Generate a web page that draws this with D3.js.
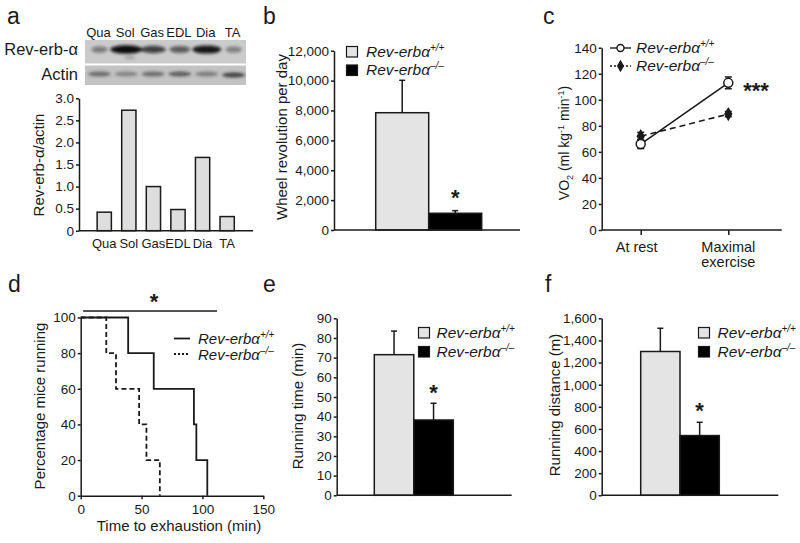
<!DOCTYPE html>
<html><head><meta charset="utf-8">
<script src="https://cdn.jsdelivr.net/npm/d3@7"></script>
<style>
body{margin:0;background:#fff}
svg{display:block;font-family:"Liberation Sans",Arial,Helvetica,sans-serif}
</style>
</head><body>
<svg id="fig" width="800" height="543"></svg>
<script>
// ---------------- data ----------------
const muscles = ["Qua", "Sol", "Gas", "EDL", "Dia", "TA"];
const revErbRatio = [0.42, 2.73, 1.0, 0.48, 1.66, 0.32];
const ratioTicks = [0, 0.5, 1.0, 1.5, 2.0, 2.5, 3.0];
const blotRevErb = [0.45, 1.0, 0.75, 0.6, 0.95, 0.42];
const blotRevErbWidth = [0.5, 1.0, 0.8, 0.65, 0.9, 0.5];
const blotActin = [0.55, 0.4, 0.55, 0.65, 0.45, 0.8];

const genotypes = ["+/+", "–/–"];
const wheelMean = [7850, 1120];
const wheelSem = [2170, 175];
const wheelTicks = [0, 2000, 4000, 6000, 8000, 10000, 12000];

const vo2Conditions = ["At rest", "Maximal exercise"];
const vo2WT = [66, 113];
const vo2WTSem = [3.5, 4.5];
const vo2KO = [72, 89];
const vo2KOSem = [3, 2];
const vo2Ticks = [0, 20, 40, 60, 80, 100, 120, 140];

const survTimeWT = [0, 39, 60, 93, 95, 104];
const survPctWT = [100, 80, 60, 40, 20, 0];
const survTimeKO = [0, 21, 29, 48, 54, 65];
const survPctKO = [100, 80, 60, 40, 20, 0];
const survXTicks = [0, 50, 100, 150];
const survYTicks = [0, 20, 40, 60, 80, 100];
const survSigSpan = [2, 112];

const runTimeMean = [71.5, 38.3];
const runTimeSem = [12, 8.5];
const runTimeTicks = [0, 10, 20, 30, 40, 50, 60, 70, 80, 90];

const runDistMean = [1300, 540];
const runDistSem = [210, 120];
const runDistTicks = [0, 200, 400, 600, 800, 1000, 1200, 1400, 1600];

// ---------------- helpers ----------------
const svg = d3.select("#fig");
svg.append("rect").attr("width", 800).attr("height", 543).attr("fill", "#fff");
const INK = "#1a1a1a";
const LW = 1.5;
const TICKFS = 13.5;

function panelLabel(t, x, y) {
  svg.append("text").attr("x", x).attr("y", y).attr("font-size", 23).attr("fill", INK).text(t);
}
function yAxis(scale, x, ticks, fmt) {
  const g = svg.append("g").attr("transform", `translate(${x},0)`)
    .call(d3.axisLeft(scale).tickValues(ticks).tickFormat(fmt).tickSize(3).tickSizeOuter(0).tickPadding(2));
  g.select(".domain").attr("stroke", INK).attr("stroke-width", LW);
  g.selectAll(".tick line").attr("stroke", INK).attr("stroke-width", LW);
  g.selectAll(".tick text").attr("font-size", TICKFS).attr("fill", INK)
    .attr("font-family", "Liberation Sans, Arial, sans-serif");
  return g;
}
function yTitle(t, x, y, fs) {
  return svg.append("text").attr("transform", `translate(${x},${y}) rotate(-90)`)
    .attr("text-anchor", "middle").attr("font-size", fs || 15).attr("fill", INK).text(t);
}
function hline(x1, x2, y) {
  svg.append("line").attr("x1", x1).attr("x2", x2).attr("y1", y).attr("y2", y)
    .attr("stroke", INK).attr("stroke-width", LW);
}
function genoText(x, y, sup, fs) {
  const t = svg.append("text").attr("x", x).attr("y", y).attr("font-size", fs || 15.5)
    .attr("font-style", "italic").attr("fill", INK);
  t.append("tspan").text("Rev-erbα");
  t.append("tspan").attr("font-size", 10).attr("dy", -6).text(sup);
  return t;
}
function star(txt, x, y) {
  svg.append("text").attr("x", x).attr("y", y).attr("text-anchor", "middle")
    .attr("font-size", 22).attr("font-weight", "bold").attr("fill", INK).text(txt);
}
const barFills = ["#e4e4e4", "#000"];

function barPanel(opts) {
  const y = d3.scaleLinear().domain(opts.domain).range(opts.yRange);
  const x = d3.scaleBand().domain(genotypes).range(opts.xRange).padding(0);
  genotypes.forEach((gname, i) => {
    const cx = x(gname) + x.bandwidth() / 2;
    svg.append("line").attr("x1", cx).attr("x2", cx)
      .attr("y1", y(opts.mean[i])).attr("y2", y(opts.mean[i] + opts.sem[i]))
      .attr("stroke", INK).attr("stroke-width", LW);
    svg.append("line").attr("x1", cx - 3).attr("x2", cx + 3)
      .attr("y1", y(opts.mean[i] + opts.sem[i])).attr("y2", y(opts.mean[i] + opts.sem[i]))
      .attr("stroke", INK).attr("stroke-width", LW);
  });
  svg.append("g").selectAll("rect").data(genotypes).join("rect")
    .attr("x", d => x(d)).attr("width", x.bandwidth())
    .attr("y", (d, i) => y(opts.mean[i])).attr("height", (d, i) => y(0) - y(opts.mean[i]))
    .attr("fill", (d, i) => barFills[i]).attr("stroke", INK).attr("stroke-width", LW);
  yAxis(y, opts.axisX, opts.ticks, opts.fmt);
  hline(opts.axisX, opts.xEnd, y(0));
  genotypes.forEach((gname, i) => {
    svg.append("rect").attr("x", opts.leg[0]).attr("y", opts.leg[1] + i * opts.leg[3])
      .attr("width", 11).attr("height", 10.5).attr("fill", barFills[i])
      .attr("stroke", INK).attr("stroke-width", 1.2);
    genoText(opts.leg[2], opts.leg[1] + i * opts.leg[3] + 10, gname);
  });
  star("*", x(genotypes[1]) + x.bandwidth() / 2, opts.starY);
  return { x, y };
}

// ---------------- panel a ----------------
panelLabel("a", 7, 24);
{
  const xb = d3.scaleBand().domain(muscles).range([85, 246]).padding(0);
  const defs = svg.append("defs");
  defs.append("filter").attr("id", "blur").attr("x", "-50%").attr("y", "-100%")
    .attr("width", "200%").attr("height", "300%")
    .append("feGaussianBlur").attr("stdDeviation", 1.6);
  svg.append("rect").attr("x", 85).attr("y", 40).attr("width", 161).attr("height", 23.5).attr("fill", "#cbcbcb");
  svg.append("rect").attr("x", 85).attr("y", 65.5).attr("width", 161).attr("height", 19.5).attr("fill", "#c3c3c3");
  const bands = svg.append("g").attr("filter", "url(#blur)");
  muscles.forEach((m, i) => {
    const cx = xb(m) + xb.bandwidth() / 2;
    bands.append("ellipse").attr("cx", cx + 1).attr("cy", 49.5)
      .attr("rx", 16 * blotRevErbWidth[i]).attr("ry", 2.2 + 2 * blotRevErb[i])
      .attr("fill", "#111").attr("opacity", blotRevErb[i]);
    bands.append("ellipse").attr("cx", cx + 1).attr("cy", 74 + (i === 5 ? 1 : 0))
      .attr("rx", 11.5).attr("ry", 2.4)
      .attr("fill", "#222").attr("opacity", blotActin[i]);
  });
  bands.append("ellipse").attr("cx", 130).attr("cy", 57.5).attr("rx", 5).attr("ry", 1.5)
    .attr("fill", "#444").attr("opacity", 0.35);
  svg.append("g").selectAll("text").data(muscles).join("text")
    .attr("x", d => xb(d) + xb.bandwidth() / 2).attr("y", 37).attr("text-anchor", "middle")
    .attr("font-size", 13).attr("fill", INK).text(d => d);
  svg.append("text").attr("x", 78).attr("y", 55).attr("text-anchor", "end")
    .attr("font-size", 16.5).attr("fill", INK).text("Rev-erb-α");
  svg.append("text").attr("x", 78).attr("y", 80).attr("text-anchor", "end")
    .attr("font-size", 16.5).attr("fill", INK).text("Actin");

  const y = d3.scaleLinear().domain([0, 3]).range([230.7, 98.3]);
  const x = d3.scaleBand().domain(muscles).range([86.8, 244.6]).padding(0.42);
  svg.append("g").selectAll("rect").data(muscles).join("rect")
    .attr("x", d => x(d)).attr("width", x.bandwidth())
    .attr("y", (d, i) => y(revErbRatio[i])).attr("height", (d, i) => y(0) - y(revErbRatio[i]))
    .attr("fill", "#dedede").attr("stroke", INK).attr("stroke-width", LW);
  yAxis(y, 79, ratioTicks, d => d === 0 ? "0" : d3.format(".1f")(d));
  hline(79, 253, y(0));
  svg.append("g").selectAll("text").data(muscles).join("text")
    .attr("x", d => x(d) + x.bandwidth() / 2).attr("y", 248).attr("text-anchor", "middle")
    .attr("font-size", 13).attr("fill", INK).text(d => d);
  yTitle("Rev-erb-α/actin", 44, 165);
}

// ---------------- panel b ----------------
panelLabel("b", 263, 24);
barPanel({
  domain: [0, 12000], yRange: [230, 50.7], xRange: [375.7, 481.7],
  mean: wheelMean, sem: wheelSem, axisX: 334, xEnd: 520,
  ticks: wheelTicks, fmt: d3.format(","), leg: [346.5, 46.5, 366, 18.5], starY: 205
});
yTitle("Wheel revolution per day", 287, 137);

// ---------------- panel c ----------------
panelLabel("c", 543, 24);
{
  const y = d3.scaleLinear().domain([0, 140]).range([230, 47.7]);
  const x = d3.scalePoint().domain(vo2Conditions).range([640.7, 728.3]);
  const g = svg.append("g").attr("transform", "translate(0,230)")
    .call(d3.axisBottom(x).tickSize(5).tickSizeOuter(0).tickFormat(""));
  g.select(".domain").remove();
  g.selectAll(".tick line").attr("stroke", INK).attr("stroke-width", LW);
  hline(601.7, 781.7, 230);
  yAxis(y, 601.7, vo2Ticks, d3.format("d"));

  const lineGen = d3.line().x((d, i) => x(vo2Conditions[i])).y(d => y(d));
  svg.append("path").attr("d", lineGen(vo2KO)).attr("fill", "none").attr("stroke", INK)
    .attr("stroke-width", 1.6).attr("stroke-dasharray", "6,4");
  svg.append("path").attr("d", lineGen(vo2WT)).attr("fill", "none").attr("stroke", INK)
    .attr("stroke-width", 1.6);
  function errBars(vals, sems) {
    vals.forEach((v, i) => {
      const cx = x(vo2Conditions[i]);
      svg.append("line").attr("x1", cx).attr("x2", cx).attr("y1", y(v - sems[i])).attr("y2", y(v + sems[i]))
        .attr("stroke", INK).attr("stroke-width", LW);
      [v - sems[i], v + sems[i]].forEach(e => {
        svg.append("line").attr("x1", cx - 3.5).attr("x2", cx + 3.5).attr("y1", y(e)).attr("y2", y(e))
          .attr("stroke", INK).attr("stroke-width", LW);
      });
    });
  }
  errBars(vo2KO, vo2KOSem);
  errBars(vo2WT, vo2WTSem);
  const diamond = d3.symbol(d3.symbolDiamond, 60);
  vo2KO.forEach((v, i) => {
    svg.append("path").attr("d", diamond()).attr("transform", `translate(${x(vo2Conditions[i])},${y(v)})`)
      .attr("fill", INK);
  });
  vo2WT.forEach((v, i) => {
    svg.append("circle").attr("cx", x(vo2Conditions[i])).attr("cy", y(v)).attr("r", 4.5)
      .attr("fill", "#fff").attr("stroke", INK).attr("stroke-width", 1.5);
  });
  const labelLines = vo2Conditions.map(c => c === "At rest" ? [c] : c.split(" "));
  vo2Conditions.forEach((c, i) => {
    labelLines[i].forEach((ln, j) => {
      svg.append("text").attr("x", x(c) - (i === 0 ? 4 : 0)).attr("y", 252 + j * 15).attr("text-anchor", "middle")
        .attr("font-size", 14.5).attr("fill", INK).text(ln);
    });
  });
  [["+/+", false, 48], ["–/–", true, 66]].forEach(([sup, ko, ly]) => {
    svg.append("line").attr("x1", 610).attr("x2", 631).attr("y1", ly).attr("y2", ly)
      .attr("stroke", INK).attr("stroke-width", 1.4).attr("stroke-dasharray", ko ? "2,2" : null);
    if (ko) svg.append("path").attr("d", d3.symbol(d3.symbolDiamond, 45)()).attr("transform", `translate(620.5,${ly})`).attr("fill", INK);
    else svg.append("circle").attr("cx", 620.5).attr("cy", ly).attr("r", 3.5).attr("fill", "#fff").attr("stroke", INK).attr("stroke-width", 1.4);
    genoText(636, ly + 5, sup);
  });
  star("***", 756, 98);
  const t = svg.append("text").attr("transform", "translate(569,143) rotate(-90)")
    .attr("text-anchor", "middle").attr("font-size", 14).attr("fill", INK);
  t.append("tspan").text("VO");
  t.append("tspan").attr("font-size", 9).attr("dy", 4).text("2");
  t.append("tspan").attr("dy", -4).text(" (ml kg");
  t.append("tspan").attr("font-size", 9).attr("dy", -5).text("-1");
  t.append("tspan").attr("dy", 5).text(" min");
  t.append("tspan").attr("font-size", 9).attr("dy", -5).text("-1");
  t.append("tspan").attr("dy", 5).text(")");
}

// ---------------- panel d ----------------
panelLabel("d", 8, 292);
{
  const x = d3.scaleLinear().domain([0, 150]).range([80.7, 263.3]);
  const y = d3.scaleLinear().domain([0, 100]).range([495.7, 317.5]);
  const step = d3.line().curve(d3.curveStepAfter).x(d => x(d[0])).y(d => y(d[1]));
  svg.append("path").attr("d", step(survTimeKO.map((t, i) => [t, survPctKO[i]])))
    .attr("fill", "none").attr("stroke", INK).attr("stroke-width", 1.8).attr("stroke-dasharray", "5,3");
  svg.append("path").attr("d", step(survTimeWT.map((t, i) => [t, survPctWT[i]])))
    .attr("fill", "none").attr("stroke", INK).attr("stroke-width", 1.8);
  const gx = svg.append("g").attr("transform", "translate(0,495.7)")
    .call(d3.axisBottom(x).tickValues(survXTicks).tickSize(3.5).tickSizeOuter(0).tickPadding(5));
  gx.select(".domain").attr("stroke", INK).attr("stroke-width", LW);
  gx.selectAll(".tick line").attr("stroke", INK).attr("stroke-width", LW);
  gx.selectAll(".tick text").attr("font-size", TICKFS).attr("fill", INK)
    .attr("font-family", "Liberation Sans, Arial, sans-serif");
  yAxis(y, 80.7, survYTicks, d3.format("d"));
  svg.append("text").attr("x", 179).attr("y", 531).attr("text-anchor", "middle")
    .attr("font-size", 15).attr("fill", INK).text("Time to exhaustion (min)");
  yTitle("Percentage mice running", 45, 406);
  hline(x(survSigSpan[0]), x(survSigSpan[1]), 311);
  star("*", 154, 309);
  [["+/+", null, 338.5], ["–/–", "2,2", 354]].forEach(([sup, dash, ly]) => {
    svg.append("line").attr("x1", 174).attr("x2", 190).attr("y1", ly).attr("y2", ly)
      .attr("stroke", INK).attr("stroke-width", 1.8).attr("stroke-dasharray", dash);
    genoText(198, ly + 5.5, sup, 15);
  });
}

// ---------------- panel e ----------------
panelLabel("e", 263, 292);
barPanel({
  domain: [0, 90], yRange: [495.3, 318.3], xRange: [374.3, 453.3],
  mean: runTimeMean, sem: runTimeSem, axisX: 336.7, xEnd: 511.7,
  ticks: runTimeTicks, fmt: d3.format("d"), leg: [418.5, 327.5, 436.5, 19], starY: 400
});
yTitle("Running time (min)", 303, 406);

// ---------------- panel f ----------------
panelLabel("f", 545, 292);
barPanel({
  domain: [0, 1600], yRange: [495.3, 318.3], xRange: [640.7, 719.3],
  mean: runDistMean, sem: runDistSem, axisX: 601.7, xEnd: 778.3,
  ticks: runDistTicks, fmt: d3.format(","), leg: [698.5, 327.5, 717.5, 19], starY: 418
});
yTitle("Running distance (m)", 560, 405);
</script>
</body></html>
